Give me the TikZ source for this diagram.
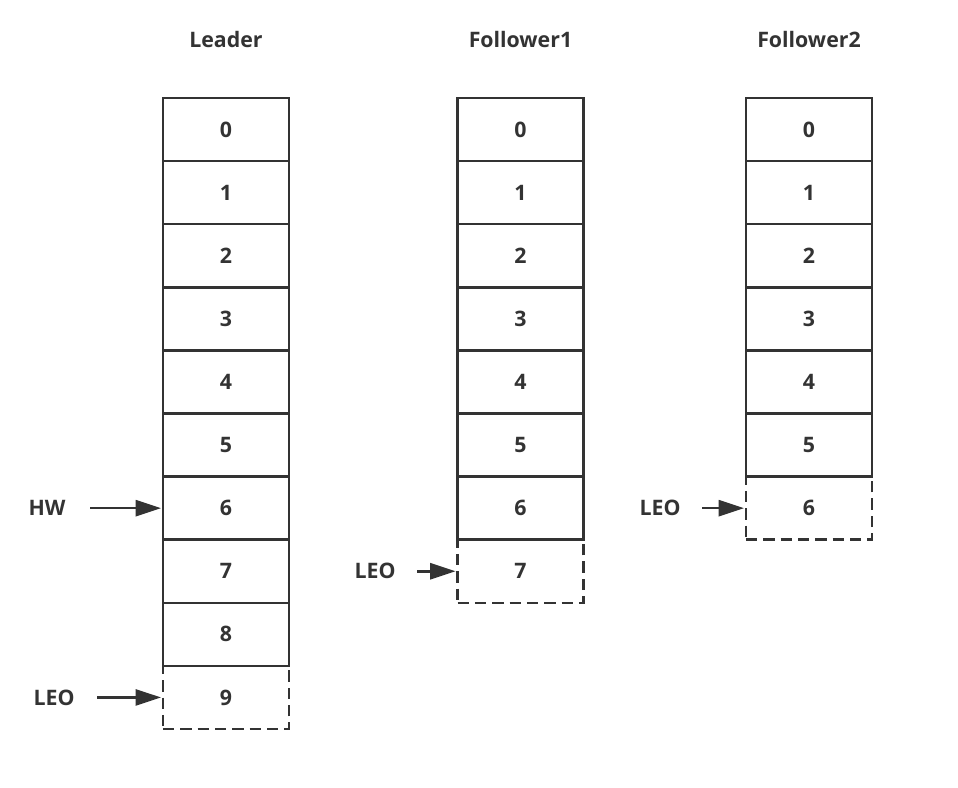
\documentclass[tikz,border=0pt]{standalone}
\usepackage{fontspec}
\setmainfont{Open Sans}
\usetikzlibrary{arrows.meta}
\definecolor{ink}{HTML}{333333}
\begin{document}
\begin{tikzpicture}[x=0.75pt,y=-0.75pt,
  cell/.style={draw=ink, line width=1.9pt, minimum width=94.5pt, minimum height=47.3pt, inner sep=0pt, text=ink, font=\fontsize{16}{18}\selectfont\bfseries},
  dcell/.style={cell, dash pattern=on 8.5pt off 4.5pt},
  lbl/.style={text=ink, font=\fontsize{16}{18}\selectfont\bfseries, inner sep=0pt},
  ptr/.style={draw=ink, line width=1.9pt, -{Triangle[length=19pt,width=12pt]}, shorten >=0.5pt}]
\useasboundingbox (0,0) rectangle (958,788);
% titles
\node[lbl] (tL) at (226,40) {Leader};
\node[lbl] (tF1) at (520.5,40) {Follower1};
\node[lbl] (tF2) at (809,40) {Follower2};
% Leader
\node[dcell] (L9) at (226,{98+63.1*9.5}) {9};
\foreach \i in {0,...,8} \node[cell] (L\i) at (226,{98+63.1*(\i+0.5)}) {\i};
% Follower1
\node[dcell] (F7) at (520.5,{98+63.1*7.5}) {7};
\foreach \i in {0,...,6} \node[cell] (F\i) at (520.5,{98+63.1*(\i+0.5)}) {\i};
% Follower2
\node[dcell] (G6) at (809,{98+63.1*6.5}) {6};
\foreach \i in {0,...,5} \node[cell] (G\i) at (809,{98+63.1*(\i+0.5)}) {\i};
% pointers
\node[lbl] (hw) at (47,{98+63.1*6.5}) {HW};
\coordinate (hwS) at (90,{98+63.1*6.5});
\draw[ptr] (hwS) -- (L6.west);
\node[lbl] (leoL) at (54,{98+63.1*9.5}) {LEO};
\coordinate (leoLS) at (97,{98+63.1*9.5});
\draw[ptr] (leoLS) -- (L9.west);
\node[lbl] (leoF) at (375,{98+63.1*7.5}) {LEO};
\coordinate (leoFS) at (417,{98+63.1*7.5});
\draw[ptr] (leoFS) -- (F7.west);
\node[lbl] (leoG) at (660,{98+63.1*6.5}) {LEO};
\coordinate (leoGS) at (702,{98+63.1*6.5});
\draw[ptr] (leoGS) -- (G6.west);
\end{tikzpicture}
\end{document}
